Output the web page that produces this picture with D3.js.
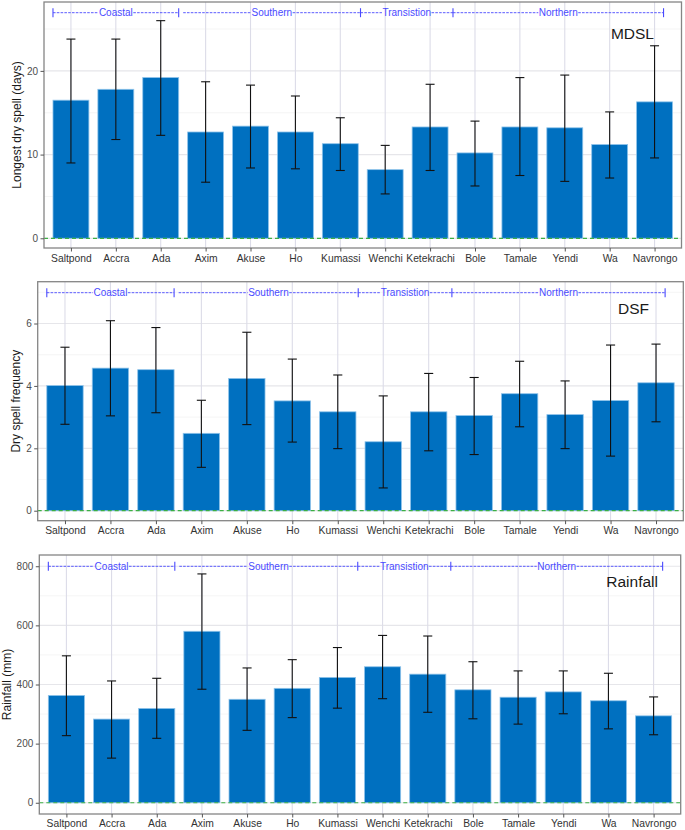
<!DOCTYPE html>
<html>
<head>
<meta charset="utf-8">
<script src="https://cdn.jsdelivr.net/npm/d3@7"></script>
<style>
  html, body { margin: 0; padding: 0; background: #fff; }
  svg { display: block; font-family: "Liberation Sans", Arial, sans-serif; }
</style>
</head>
<body>
<svg id="chart" width="685" height="830"></svg>
<script>
// ---------------- DATA ----------------
const stations = ["Saltpond","Accra","Ada","Axim","Akuse","Ho","Kumassi","Wenchi","Ketekrachi","Bole","Tamale","Yendi","Wa","Navrongo"];
const zoneNames = ["Coastal","Southern","Transistion","Northern"];
const zoneSizes = [3, 4, 2, 5];

const mdslMean = [16.5, 17.8, 19.2, 12.7, 13.4, 12.7, 11.3, 8.2, 13.3, 10.2, 13.3, 13.2, 11.2, 16.3];
const mdslHigh = [23.8, 23.8, 26.0, 18.7, 18.3, 17.0, 14.4, 11.1, 18.4, 14.0, 19.2, 19.5, 15.1, 23.0];
const mdslLow  = [9.0, 11.8, 12.3, 6.7, 8.4, 8.3, 8.1, 5.3, 8.1, 6.25, 7.5, 6.8, 7.2, 9.6];

const dsfMean = [4.01, 4.57, 4.52, 2.48, 4.24, 3.52, 3.17, 2.21, 3.17, 3.05, 3.75, 3.08, 3.53, 4.10];
const dsfHigh = [5.24, 6.09, 5.87, 3.54, 5.72, 4.86, 4.35, 3.68, 4.40, 4.27, 4.79, 4.16, 5.31, 5.34];
const dsfLow  = [2.77, 3.04, 3.14, 1.39, 2.76, 2.20, 1.99, 0.73, 1.92, 1.80, 2.69, 1.99, 1.75, 2.85];

const rainMean = [363, 283, 319, 580, 350, 387, 424, 460, 435, 382, 357, 375, 345, 294];
const rainHigh = [497, 412, 421, 774, 456, 484, 525, 566, 564, 477, 446, 446, 438, 358];
const rainLow  = [227, 151, 218, 384, 245, 288, 320, 352, 306, 284, 266, 301, 250, 230];

const mdslTicks = [0, 10, 20];
const mdslMinor = [5, 15, 25];
const dsfTicks = [0, 2, 4, 6];
const dsfMinor = [1, 3, 5, 7];
const rainTicks = [0, 200, 400, 600, 800];
const rainMinor = [100, 300, 500, 700];

// ---------------- LAYOUT ----------------
const panels = [
  { name: "MDSL", title: "Longest dry spell (days)", mean: mdslMean, high: mdslHigh, low: mdslLow,
    ticks: mdslTicks, minor: mdslMinor, domain: [-1.16, 28.23],
    left: 44, right: 681.5, top: 2, bottom: 248,
    zoneY: 12.7, labelY: 33.3, labelX: 654, titleX: 17, xLabY: 262 },
  { name: "DSF", title: "Dry spell frequency", mean: dsfMean, high: dsfHigh, low: dsfLow,
    ticks: dsfTicks, minor: dsfMinor, domain: [-0.32, 7.34],
    left: 37.7, right: 683.3, top: 281.7, bottom: 520.7,
    zoneY: 292.7, labelY: 308, labelX: 649, titleX: 16, xLabY: 534.5 },
  { name: "Rainfall", title: "Rainfall (mm)", mean: rainMean, high: rainHigh, low: rainLow,
    ticks: rainTicks, minor: rainMinor, domain: [-38, 838],
    left: 39.3, right: 680.7, top: 555, bottom: 814,
    zoneY: 566.3, labelY: 581.7, labelX: 658, titleX: 7, xLabY: 827 }
];

// zone annotation edges, in category-index units
const zoneEdges = [[-0.4, 2.4], [2.5, 6.45], [6.45, 8.51], [8.51, 13.2]];
const zoneLeftBar = [true, false, false, false];

const svg = d3.select("#chart");

panels.forEach(p => {
  const g = svg.append("g");
  const x = d3.scalePoint().domain(stations).range([p.left, p.right]).padding(0.6);
  const step = x.step();
  const y = d3.scaleLinear().domain(p.domain).range([p.bottom, p.top]);
  const idx = d3.scaleLinear().domain([0, 1]).range([x(stations[0]), x(stations[0]) + step]);

  // minor gridlines
  g.selectAll(".minor").data(p.minor).join("line")
    .attr("x1", p.left).attr("x2", p.right)
    .attr("y1", d => y(d)).attr("y2", d => y(d))
    .attr("stroke", "#f2f2f2").attr("stroke-width", 0.8);
  // major gridlines
  g.selectAll(".major").data(p.ticks).join("line")
    .attr("x1", p.left).attr("x2", p.right)
    .attr("y1", d => y(d)).attr("y2", d => y(d))
    .attr("stroke", "#e6e6ea").attr("stroke-width", 1.2);
  // vertical gridlines
  g.selectAll(".vgrid").data(stations).join("line")
    .attr("x1", d => x(d)).attr("x2", d => x(d))
    .attr("y1", p.top).attr("y2", p.bottom)
    .attr("stroke", "#dcdce8").attr("stroke-width", 1.1);

  // bars
  const bw = step * 0.8;
  g.selectAll(".bar").data(stations).join("rect")
    .attr("x", d => x(d) - bw / 2)
    .attr("width", bw)
    .attr("y", (d, i) => y(p.mean[i]))
    .attr("height", (d, i) => y(0) - y(p.mean[i]))
    .attr("fill", "#0070C0")
    .attr("stroke", "#8ec3ea").attr("stroke-width", 0.8);

  // zero line
  g.append("line")
    .attr("x1", p.left).attr("x2", p.right)
    .attr("y1", y(0)).attr("y2", y(0))
    .attr("stroke", "#3cb043").attr("stroke-width", 1.2)
    .attr("stroke-dasharray", "4,3");

  // error bars
  const cap = step * 0.1;
  stations.forEach((s, i) => {
    const cx = x(s);
    g.append("line").attr("x1", cx).attr("x2", cx)
      .attr("y1", y(p.low[i])).attr("y2", y(p.high[i]))
      .attr("stroke", "#111").attr("stroke-width", 1.1);
    [p.low[i], p.high[i]].forEach(v => {
      g.append("line").attr("x1", cx - cap).attr("x2", cx + cap)
        .attr("y1", y(v)).attr("y2", y(v))
        .attr("stroke", "#111").attr("stroke-width", 1.1);
    });
  });

  // zone annotations
  const zc = "#4a4aff";
  zoneNames.forEach((z, k) => {
    const x0 = idx(zoneEdges[k][0]), x1 = idx(zoneEdges[k][1]);
    const cx = (x0 + x1) / 2;
    const t = g.append("text").attr("x", cx).attr("y", p.zoneY + 3.5)
      .attr("text-anchor", "middle").attr("font-size", 10).attr("fill", zc).text(z);
    const w = t.node().getComputedTextLength();
    [[x0, cx - w / 2 - 0.5], [cx + w / 2 + 0.5, x1]].forEach(seg => {
      g.append("line").attr("x1", seg[0]).attr("x2", seg[1])
        .attr("y1", p.zoneY).attr("y2", p.zoneY)
        .attr("stroke", zc).attr("stroke-width", 0.9).attr("stroke-dasharray", "2.6,1.2");
    });
    const bars = zoneLeftBar[k] ? [x0, x1] : [x1];
    bars.forEach(bx => {
      g.append("line").attr("x1", bx).attr("x2", bx)
        .attr("y1", p.zoneY - 4.5).attr("y2", p.zoneY + 4.5)
        .attr("stroke", zc).attr("stroke-width", 1.1);
    });
  });

  // panel label
  g.append("text").attr("x", p.labelX).attr("y", p.labelY + 5.5)
    .attr("text-anchor", "end").attr("font-size", 15.5).attr("fill", "#1a1a1a").text(p.name);

  // border
  g.append("rect").attr("x", p.left).attr("y", p.top)
    .attr("width", p.right - p.left).attr("height", p.bottom - p.top)
    .attr("fill", "none").attr("stroke", "#858585").attr("stroke-width", 1.3);

  // y axis
  const ya = g.append("g").attr("transform", `translate(${p.left},0)`)
    .call(d3.axisLeft(y).tickValues(p.ticks).tickSize(3.5).tickPadding(2.5).tickFormat(d3.format("d")));
  ya.select(".domain").remove();
  ya.selectAll("line").attr("stroke", "#555");
  ya.selectAll("text").attr("font-size", 10).attr("fill", "#4d4d4d")
    .attr("font-family", "'Liberation Sans', Arial, sans-serif");

  // x axis
  const xa = g.append("g").attr("transform", `translate(0,${p.bottom})`)
    .call(d3.axisBottom(x).tickSize(3.5).tickPadding(3));
  xa.select(".domain").remove();
  xa.selectAll("line").attr("stroke", "#555");
  xa.selectAll("text").attr("font-size", 10.3).attr("fill", "#333")
    .attr("font-family", "'Liberation Sans', Arial, sans-serif")
    .attr("dy", null).attr("y", p.xLabY - p.bottom);

  // y title
  g.append("text")
    .attr("transform", `translate(${p.titleX + 4},${(p.top + p.bottom) / 2}) rotate(-90)`)
    .attr("text-anchor", "middle").attr("font-size", 12).attr("fill", "#1a1a1a").text(p.title);
});
</script>
</body>
</html>
